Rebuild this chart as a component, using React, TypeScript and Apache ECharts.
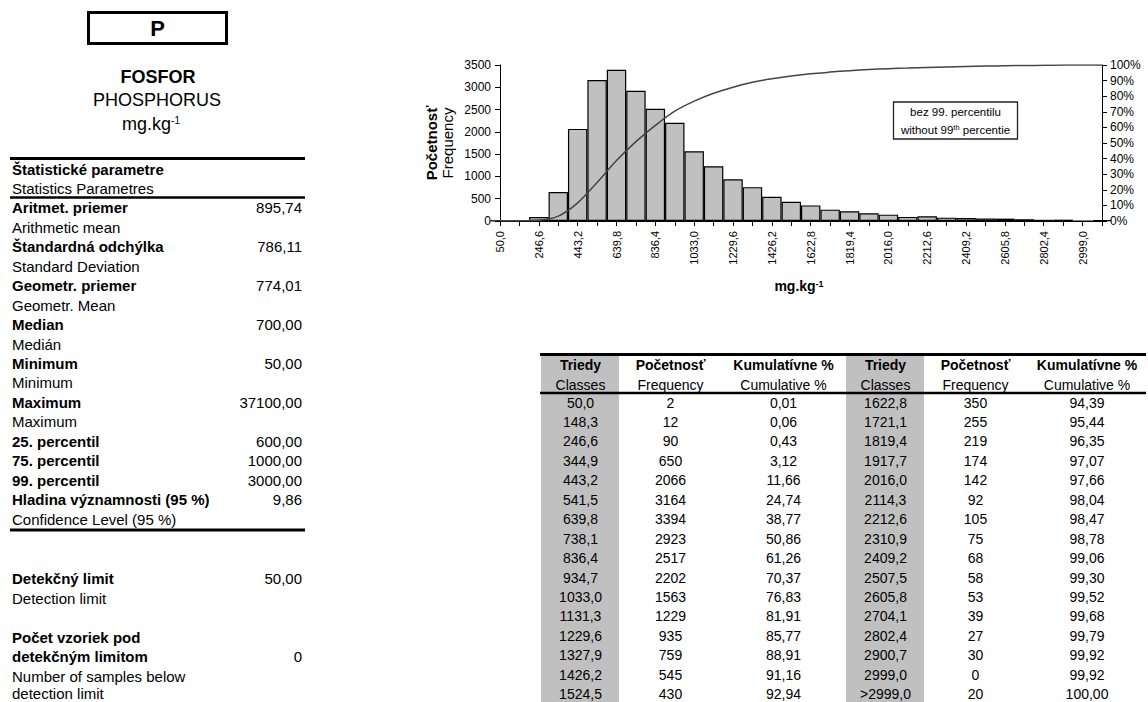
import React, { useEffect, useRef } from "react";
import * as echarts from "echarts";

// ---------- DATA ----------
const classLabels = [
  "50,0", "148,3", "246,6", "344,9", "443,2", "541,5", "639,8", "738,1",
  "836,4", "934,7", "1033,0", "1131,3", "1229,6", "1327,9", "1426,2", "1524,5",
  "1622,8", "1721,1", "1819,4", "1917,7", "2016,0", "2114,3", "2212,6", "2310,9",
  "2409,2", "2507,5", "2605,8", "2704,1", "2802,4", "2900,7", "2999,0", ">2999,0",
];
const frequency = [
  2, 12, 90, 650, 2066, 3164, 3394, 2923,
  2517, 2202, 1563, 1229, 935, 759, 545, 430,
  350, 255, 219, 174, 142, 92, 105, 75,
  68, 58, 53, 39, 27, 30, 0, 20,
];
const cumulative = [
  0.01, 0.06, 0.43, 3.12, 11.66, 24.74, 38.77, 50.86,
  61.26, 70.37, 76.83, 81.91, 85.77, 88.91, 91.16, 92.94,
  94.39, 95.44, 96.35, 97.07, 97.66, 98.04, 98.47, 98.78,
  99.06, 99.3, 99.52, 99.68, 99.79, 99.92, 99.92, 100.0,
];
const leftTicks = [0, 500, 1000, 1500, 2000, 2500, 3000, 3500];
const rightTicks = [0, 10, 20, 30, 40, 50, 60, 70, 80, 90, 100];

const statsRows = [
  { sk: "Aritmet. priemer", en: "Arithmetic mean", value: "895,74" },
  { sk: "Štandardná odchýlka", en: "Standard Deviation", value: "786,11" },
  { sk: "Geometr. priemer", en: "Geometr. Mean", value: "774,01" },
  { sk: "Median", en: "Medián", value: "700,00" },
  { sk: "Minimum", en: "Minimum", value: "50,00" },
  { sk: "Maximum", en: "Maximum", value: "37100,00" },
  { sk: "25. percentil", en: "", value: "600,00" },
  { sk: "75. percentil", en: "", value: "1000,00" },
  { sk: "99. percentil", en: "", value: "3000,00" },
  { sk: "Hladina významnosti (95 %)", en: "Confidence Level (95 %)", value: "9,86" },
];
const detectionLimit = "50,00";
const belowLimitCount = "0";

const tableHeaders = [
  { sk: "Triedy", en: "Classes" },
  { sk: "Početnosť", en: "Frequency" },
  { sk: "Kumulatívne %", en: "Cumulative %" },
];

// ---------- LAYOUT HELPERS ----------
const FONT = '"Liberation Sans", Arial, Helvetica, sans-serif';

function txt(text: string, x: number, y: number, o: any = {}) {
  const align = o.align || "left";
  const style: any = {
    text,
    fill: o.color || "#000",
    fontSize: o.size || 15,
    fontWeight: o.bold ? "bold" : "normal",
    fontFamily: FONT,
    align,
    verticalAlign: "middle",
    textAlign: align,
    textVerticalAlign: "middle",
  };
  if (o.rich) style.rich = o.rich;
  return { type: "text", x, y, rotation: o.rotation || 0, silent: true, z: 10, style };
}

function hline(x1: number, x2: number, y: number, w: number) {
  return {
    type: "line",
    silent: true,
    z: 11,
    shape: { x1, y1: y, x2, y2: y },
    style: { stroke: "#000", lineWidth: w },
  };
}

function fmt2(v: number) {
  return v.toFixed(2).replace(".", ",");
}

function buildGraphics() {
  const g: any[] = [];
  // ----- left panel -----
  g.push({
    type: "rect",
    silent: true,
    shape: { x: 88.5, y: 12.5, width: 138, height: 31 },
    style: { fill: "none", stroke: "#000", lineWidth: 3 },
  });
  g.push(txt("P", 157.5, 28.5, { bold: true, size: 22, align: "center" }));
  g.push(txt("FOSFOR", 158, 77, { bold: true, size: 18, align: "center" }));
  g.push(txt("PHOSPHORUS", 157, 100, { size: 18, align: "center" }));
  g.push(
    txt("{n|mg.kg}{s|-1}", 151, 124, {
      size: 18,
      align: "center",
      rich: {
        n: { fontSize: 18, fontFamily: FONT, fill: "#000", verticalAlign: "middle" },
        s: { fontSize: 10, fontFamily: FONT, fill: "#000", verticalAlign: "top" },
      },
    })
  );
  g.push(hline(10, 305, 158.5, 3));
  const L0 = 169;
  const DY = 19.45;
  g.push(txt("Štatistické parametre", 12, L0, { bold: true }));
  g.push(txt("Statistics Parametres", 12, L0 + DY));
  g.push(hline(10, 305, 197.5, 2.5));
  let n = 2;
  statsRows.forEach((r) => {
    const y = L0 + n * DY;
    g.push(txt(r.sk, 12, y, { bold: true }));
    g.push(txt(r.value, 302, y, { align: "right" }));
    n++;
    if (r.en) {
      g.push(txt(r.en, 12, L0 + n * DY));
      n++;
    }
  });
  g.push(hline(10, 305, 530, 3));
  g.push(txt("Detekčný limit", 12, 578.5, { bold: true }));
  g.push(txt(detectionLimit, 302, 578.5, { align: "right" }));
  g.push(txt("Detection limit", 12, 598));
  g.push(txt("Počet vzoriek pod", 12, 637, { bold: true }));
  g.push(txt("detekčným limitom", 12, 656.5, { bold: true }));
  g.push(txt(belowLimitCount, 302, 656.5, { align: "right" }));
  g.push(txt("Number of samples below", 12, 676));
  g.push(txt("detection limit", 12, 693.5));

  // ----- chart annotations -----
  g.push(txt("Početnosť", 431, 143, { bold: true, size: 15, align: "center", rotation: Math.PI / 2 }));
  g.push(txt("Frequency", 447, 143, { size: 15, align: "center", rotation: Math.PI / 2 }));
  g.push(
    txt("{n|mg.kg}{s|-1}", 799, 286, {
      size: 14,
      bold: true,
      align: "center",
      rich: {
        n: { fontSize: 14, fontWeight: "bold", fontFamily: FONT, fill: "#000", verticalAlign: "middle" },
        s: { fontSize: 9, fontWeight: "bold", fontFamily: FONT, fill: "#000", verticalAlign: "top" },
      },
    })
  );
  g.push({
    type: "rect",
    silent: true,
    z: 9,
    shape: { x: 893.5, y: 102, width: 124, height: 37 },
    style: { fill: "#fff", stroke: "#222", lineWidth: 1.3 },
  });
  g.push(txt("bez 99. percentilu", 955.5, 112, { size: 11.5, align: "center" }));
  g.push(
    txt("{n|without 99}{s|th}{n| percentie}", 955.5, 129.5, {
      size: 11.5,
      align: "center",
      rich: {
        n: { fontSize: 11.5, fontFamily: FONT, fill: "#000", verticalAlign: "middle" },
        s: { fontSize: 7.5, fontFamily: FONT, fill: "#000", verticalAlign: "top" },
      },
    })
  );

  // ----- table -----
  const halves = [
    { band: 541, cols: [580.5, 670.5, 783.5], start: 0 },
    { band: 846, cols: [885.5, 975.5, 1087], start: 16 },
  ];
  halves.forEach((h) => {
    g.push({
      type: "rect",
      silent: true,
      z: 1,
      shape: { x: h.band, y: 354, width: 78, height: 350 },
      style: { fill: "#c0c0c0" },
    });
    tableHeaders.forEach((hd, c) => {
      g.push(txt(hd.sk, h.cols[c], 365, { bold: true, size: 14, align: "center" }));
      g.push(txt(hd.en, h.cols[c], 384.5, { size: 14, align: "center" }));
    });
    for (let i = 0; i < 16; i++) {
      const k = h.start + i;
      const y = 402.5 + i * 19.45;
      g.push(txt(classLabels[k], h.cols[0], y, { size: 14, align: "center" }));
      g.push(txt(String(frequency[k]), h.cols[1], y, { size: 14, align: "center" }));
      g.push(txt(fmt2(cumulative[k]), h.cols[2], y, { size: 14, align: "center" }));
    }
  });
  g.push(hline(540, 1146, 354.5, 3));
  g.push(hline(540, 1146, 393, 2.5));
  return g;
}

export default function App() {
  const ref = useRef<HTMLDivElement>(null);
  useEffect(() => {
    if (!ref.current) return;
    const chart = echarts.init(ref.current, undefined, { renderer: "svg" });
    const axisFont = { fontFamily: FONT, color: "#000" };
    chart.setOption({
      animation: false,
      backgroundColor: "#fff",
      grid: { left: 500, top: 65, width: 602, height: 156, containLabel: false },
      xAxis: {
        type: "category",
        data: classLabels,
        boundaryGap: false,
        axisLine: { show: true, lineStyle: { color: "#000", width: 1 } },
        axisTick: { show: true, interval: 0, length: 5, lineStyle: { color: "#000" } },
        axisLabel: {
          ...axisFont,
          fontSize: 11,
          rotate: 90,
          interval: 1,
          margin: 10,
          hideOverlap: false,
        },
        splitLine: { show: false },
      },
      yAxis: [
        {
          type: "value",
          min: leftTicks[0],
          max: leftTicks[leftTicks.length - 1],
          interval: leftTicks[1] - leftTicks[0],
          axisLine: { show: true, lineStyle: { color: "#000", width: 1 } },
          axisTick: { show: true, length: 5, lineStyle: { color: "#000" } },
          axisLabel: { ...axisFont, fontSize: 12, margin: 9, formatter: (v: number) => String(v) },
          splitLine: { show: false },
        },
        {
          type: "value",
          position: "right",
          min: rightTicks[0],
          max: rightTicks[rightTicks.length - 1],
          interval: rightTicks[1] - rightTicks[0],
          axisLine: { show: true, lineStyle: { color: "#000", width: 1 } },
          axisTick: { show: true, length: 5, lineStyle: { color: "#000" } },
          axisLabel: { ...axisFont, fontSize: 12, margin: 8, formatter: (v: number) => v + "%" },
          splitLine: { show: false },
        },
      ],
      series: [
        {
          type: "bar",
          data: frequency,
          barCategoryGap: "0%",
          clip: true,
          itemStyle: { color: "#c0c0c0", borderColor: "#000", borderWidth: 1.2 },
          z: 2,
        },
        {
          type: "line",
          yAxisIndex: 1,
          data: cumulative,
          smooth: 0.35,
          symbol: "none",
          clip: true,
          lineStyle: { color: "#444", width: 1.5 },
          z: 3,
        },
      ],
      graphic: buildGraphics(),
    });
    return () => chart.dispose();
  }, []);
  return (
    <div
      ref={ref}
      style={{ position: "absolute", left: 0, top: 0, width: 1148, height: 702, background: "#fff" }}
    />
  );
}
